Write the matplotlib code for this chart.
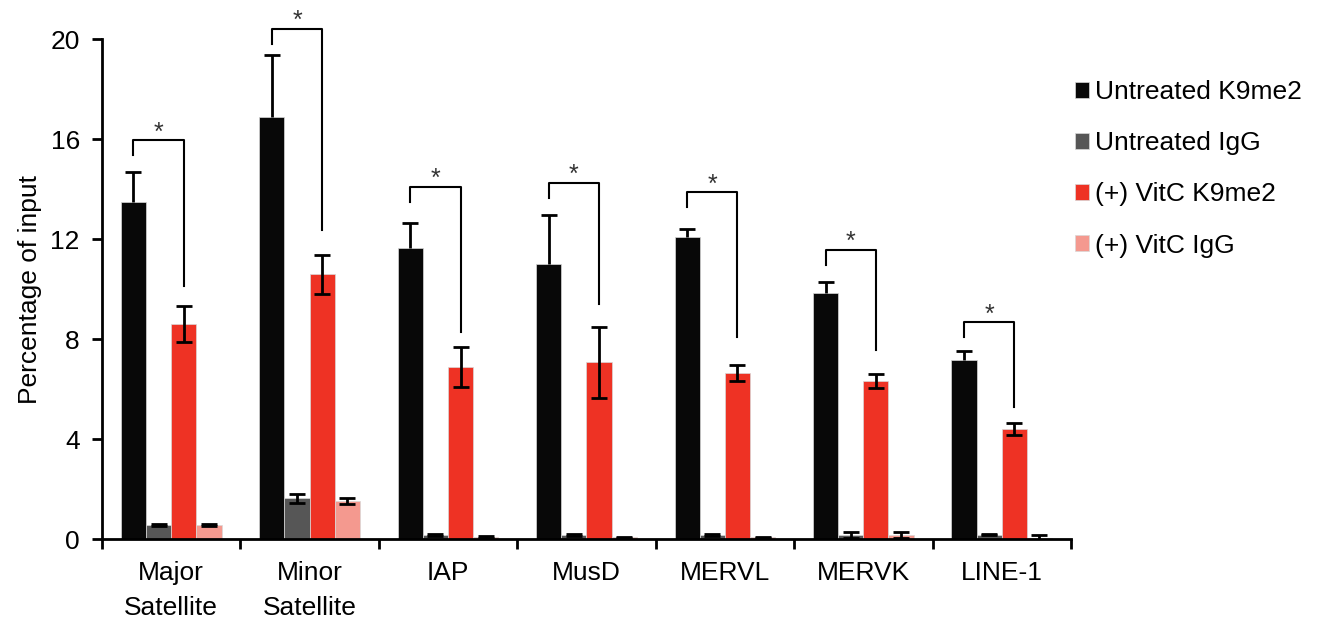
import numpy as np
import matplotlib
matplotlib.use('Agg')
import matplotlib.pyplot as plt

plt.rcParams['font.family'] = ['Liberation Sans', 'DejaVu Sans']

# du lieu doc tu hinh
categories = ['Major\nSatellite', 'Minor\nSatellite', 'IAP', 'MusD', 'MERVL', 'MERVK', 'LINE-1']
series = ['Untreated K9me2', 'Untreated IgG', '(+) VitC K9me2', '(+) VitC IgG']

unt_k9 = [13.5, 16.9, 11.65, 11.02, 12.08, 9.85, 7.17]
unt_k9_err = [1.18, 2.47, 0.99, 1.94, 0.33, 0.44, 0.35]
unt_igg = [0.56, 1.64, 0.17, 0.17, 0.17, 0.15, 0.17]
unt_igg_err = [0.03, 0.18, 0.03, 0.03, 0.03, 0.12, 0.02]
vitc_k9 = [8.6, 10.6, 6.87, 7.08, 6.65, 6.33, 4.41]
vitc_k9_err = [0.71, 0.78, 0.80, 1.42, 0.33, 0.27, 0.23]
vitc_igg = [0.56, 1.53, 0.08, 0.07, 0.07, 0.15, 0.05]
vitc_igg_err = [0.03, 0.13, 0.03, 0.02, 0.02, 0.12, 0.10]

# dau * : muc tren cung cua ngoac va dau mut ben phai
bracket_top = [15.96, 20.41, 14.09, 14.25, 13.88, 11.57, 8.68]
bracket_right = [10.12, 12.36, 8.28, 9.40, 8.08, 7.56, 5.28]

colors = ['#080808', '#565656', '#ee3224', '#f4998f']

fig = plt.figure(figsize=(13.2, 6.2), dpi=100)
ax = fig.add_axes([0.0773, 0.1306, 0.7340, 0.8064])

x = np.arange(len(categories))
w = 0.182
vals = [unt_k9, unt_igg, vitc_k9, vitc_igg]
errs = [unt_k9_err, unt_igg_err, vitc_k9_err, vitc_igg_err]
for k in range(4):
    ax.bar(x + (k - 1.5) * w, vals[k], w, color=colors[k], label=series[k],
           edgecolor='#d8d8d8', linewidth=0.5, zorder=2)
    e = np.array(errs[k])
    if k == 0:
        # cot den: chi thay nua tren
        yerr = [np.zeros_like(e), e]
    else:
        yerr = e
    eb = ax.errorbar(x + (k - 1.5) * w, vals[k], yerr=yerr, fmt='none', ecolor='black',
                     elinewidth=2, capsize=5.5, capthick=2, zorder=3)
    if k == 0:
        eb[1][0].set_visible(False)

# ngoac va dau *
for i in range(len(categories)):
    xl = x[i] - 1.5 * w
    xr = x[i] + 0.5 * w
    t = bracket_top[i]
    ax.plot([xl, xl, xr, xr], [t - 0.6, t, t, bracket_right[i]], color='black',
            lw=1.5, clip_on=False, zorder=4)
    ax.text((xl + xr) / 2, t + 0.02, '*', ha='center', va='baseline', fontsize=18,
            color='#333333', clip_on=False)

ax.set_xlim(-0.5, len(categories) - 0.5)
ax.set_ylim(0, 20)
ax.set_yticks([0, 4, 8, 12, 16, 20])
ax.set_xticks(x)
ax.set_xticklabels(categories, linespacing=1.58)
ax.set_xticks(np.arange(len(categories) + 1) - 0.5, minor=True)
ax.tick_params(axis='x', which='major', length=0, pad=16, labelsize=19)
ax.tick_params(axis='x', which='minor', length=7, width=2, direction='out')
ax.tick_params(axis='y', length=7, width=2, direction='out', pad=9, labelsize=19)
ax.set_ylabel('Percentage of input', fontsize=19, labelpad=6)

for s in ['top', 'right']:
    ax.spines[s].set_visible(False)
for s in ['left', 'bottom']:
    ax.spines[s].set_linewidth(2)

ax.legend(loc='upper left', bbox_to_anchor=(0.985, 0.955), frameon=False, fontsize=19,
          handlelength=0.55, handleheight=0.55, handletextpad=0.2, labelspacing=1.03,
          borderaxespad=0.3)

plt.savefig('out.png', dpi=100)
